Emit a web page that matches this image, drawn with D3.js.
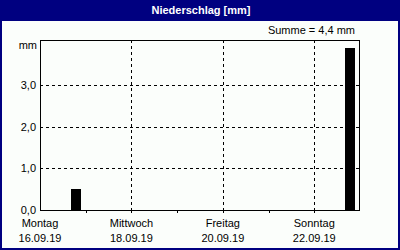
<!DOCTYPE html>
<html><head><meta charset="utf-8">
<script src="https://cdn.jsdelivr.net/npm/d3@7"></script>
<style>
html,body{margin:0;padding:0;background:#fff;}
svg text{font-family:"Liberation Sans",Arial,sans-serif;font-size:11px;fill:#000;}
</style></head><body>
<svg id="c" width="400" height="250"></svg>
<script>
const title = "Niederschlag [mm]";
const sumLabel = "Summe = 4,4 mm";
const unitLabel = "mm";
const dayNames = ["Montag","Dienstag","Mittwoch","Donnerstag","Freitag","Samstag","Sonntag"];
const labelDays = ["2019-09-16","2019-09-18","2019-09-20","2019-09-22"];
const barTimes = ["2019-09-16T19:00","2019-09-22T19:00"];
const barValues = [0.5, 3.9];
const yTicks = [0, 1, 2, 3];

const W = 400, H = 250;
const m = {left:40, right:360, top:40, bottom:210};
const svg = d3.select("#c");
const parse = d3.timeParse("%Y-%m-%dT%H:%M");
const parseDay = d3.timeParse("%Y-%m-%d");

// background + frame
svg.append("rect").attr("x",0).attr("y",0).attr("width",W).attr("height",H).attr("fill","#000080");
svg.append("rect").attr("x",2).attr("y",21).attr("width",W-4).attr("height",H-23).attr("fill","#fbfefb");
svg.append("text").attr("x",201).attr("y",14).attr("text-anchor","middle")
  .style("font-weight","bold").style("fill","#fff").text(title);
svg.append("text").attr("x",355).attr("y",34).attr("text-anchor","end").text(sumLabel);

const x = d3.scaleTime().domain([parseDay("2019-09-16"), parseDay("2019-09-23")]).range([m.left, m.right]);
const y = d3.scaleLinear().domain([0, 4.08]).range([m.bottom, m.top]);

const g = svg.append("g").attr("shape-rendering","crispEdges");

// grid
g.selectAll(".hg").data(yTicks.slice(1)).join("line")
  .attr("x1",m.left).attr("x2",m.right)
  .attr("y1",d=>Math.round(y(d))+0.5).attr("y2",d=>Math.round(y(d))+0.5)
  .attr("stroke","#000").attr("stroke-dasharray","3,3");
const gridDays = labelDays.slice(1).map(parseDay);
g.selectAll(".vg").data(gridDays).join("line")
  .attr("x1",d=>Math.round(x(d))+0.5).attr("x2",d=>Math.round(x(d))+0.5)
  .attr("y1",m.top).attr("y2",m.bottom)
  .attr("stroke","#000").attr("stroke-dasharray","3,3");

// bars
const barW = 10;
g.selectAll(".bar").data(barTimes.map((t,i)=>({t:parse(t),v:barValues[i]}))).join("rect")
  .attr("x",d=>Math.round(x(d.t)-barW/2)).attr("width",barW)
  .attr("y",d=>Math.round(y(d.v))).attr("height",d=>Math.round(y(0))-Math.round(y(d.v)))
  .attr("fill","#000");

// frame lines of plot
g.append("rect").attr("x",m.left+0.5).attr("y",m.top+0.5)
  .attr("width",m.right-m.left-1).attr("height",m.bottom-m.top)
  .attr("fill","none").attr("stroke","#000");

// bottom axis ticks (every day)
const dayTicks = d3.timeDay.range(parseDay("2019-09-16"), parseDay("2019-09-23"));
g.selectAll(".xt").data(dayTicks.slice(1)).join("line")
  .attr("x1",d=>Math.round(x(d))+0.5).attr("x2",d=>Math.round(x(d))+0.5)
  .attr("y1",m.bottom).attr("y2",m.bottom+3).attr("stroke","#000");
// right axis inner ticks
g.selectAll(".rt").data(yTicks.slice(1)).join("line")
  .attr("x1",m.right-4).attr("x2",m.right)
  .attr("y1",d=>Math.round(y(d))+0.5).attr("y2",d=>Math.round(y(d))+0.5).attr("stroke","#000");

// y labels
svg.selectAll(".yl").data(yTicks).join("text")
  .attr("x",36).attr("y",d=>Math.round(y(d))+4).attr("text-anchor","end")
  .text(d=>d3.format(".1f")(d).replace(".",","));
svg.append("text").attr("x",37).attr("y",49).attr("text-anchor","end").text(unitLabel);

// x labels
const fmtDate = d3.timeFormat("%d.%m.%y");
labelDays.forEach(s=>{
  const d = parseDay(s);
  const idx = (d.getDay()+6)%7;
  svg.append("text").attr("x",x(d)).attr("y",227).attr("text-anchor","middle").text(dayNames[idx]);
  svg.append("text").attr("x",x(d)).attr("y",242).attr("text-anchor","middle").text(fmtDate(d));
});
</script></body></html>
